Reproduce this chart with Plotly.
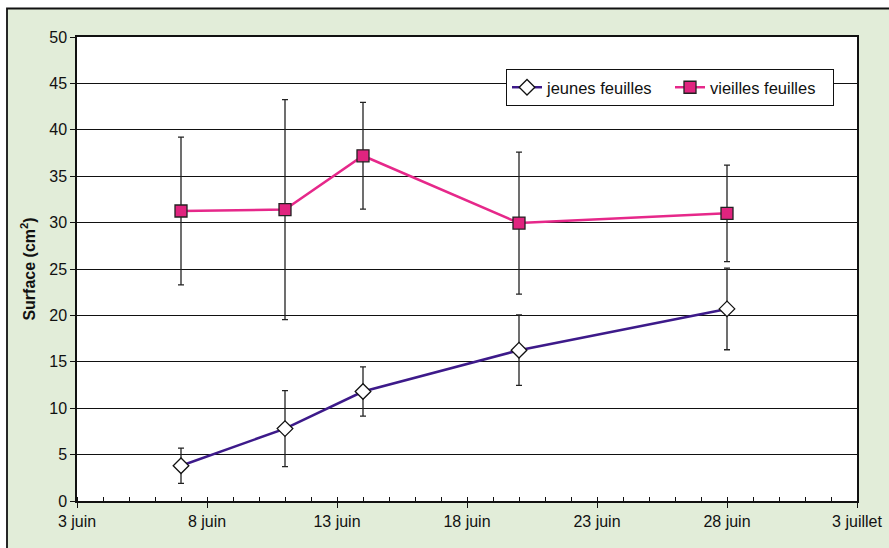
import plotly.graph_objects as go

dates = ["2005-06-07", "2005-06-11", "2005-06-14", "2005-06-20", "2005-06-28"]
jeunes = [3.8, 7.8, 11.8, 16.25, 20.7]
jeunes_err = [1.9, 4.1, 2.65, 3.8, 4.4]
vieilles = [31.25, 31.4, 37.2, 29.95, 31.0]
vieilles_err = [7.95, 11.85, 5.75, 7.65, 5.2]
tick_vals = ["2005-06-03", "2005-06-08", "2005-06-13", "2005-06-18", "2005-06-23", "2005-06-28", "2005-07-03"]
tick_text = ["3 juin", "8 juin", "13 juin", "18 juin", "23 juin", "28 juin", "3 juillet"]

fig = go.Figure()
fig.add_trace(go.Scatter(
    x=dates, y=jeunes, name="jeunes feuilles", mode="lines+markers",
    line=dict(color="#3D1A8A", width=2.5),
    marker=dict(symbol="diamond", size=12, color="white", line=dict(color="#111111", width=1.3)),
    error_y=dict(type="data", array=jeunes_err, visible=True, color="#222222", thickness=1.3, width=3),
))
fig.add_trace(go.Scatter(
    x=dates, y=vieilles, name="vieilles feuilles", mode="lines+markers",
    line=dict(color="#E6288A", width=2.5),
    marker=dict(symbol="square", size=12, color="#E0247F", line=dict(color="#222222", width=1.3)),
    error_y=dict(type="data", array=vieilles_err, visible=True, color="#222222", thickness=1.3, width=3),
))

L, R, T, B = 77, 32, 37, 47
W, H = 889, 548
pw, ph = W - L - R, H - T - B

def px_x(p):
    return (p - L) / pw

def px_y(p):
    return (H - B - p) / ph

fig.add_shape(type="rect", xref="paper", yref="paper",
              x0=px_x(7), x1=px_x(900), y0=px_y(560), y1=px_y(8.5),
              line=dict(color="#111111", width=1.8), fillcolor="#E2EDD9", layer="below")
fig.add_shape(type="rect", xref="paper", yref="paper",
              x0=0, x1=1, y0=0, y1=1,
              line=dict(width=0), fillcolor="white", layer="below")

fig.update_layout(
    width=W, height=H,
    margin=dict(l=L, r=R, t=T, b=B, autoexpand=False),
    paper_bgcolor="white", plot_bgcolor="white",
    font=dict(family="Liberation Sans, Arial, sans-serif", size=16, color="#111111"),
    showlegend=True,
    legend=dict(orientation="h", x=px_x(506), y=px_y(69), xanchor="left", yanchor="top",
                bgcolor="white", bordercolor="#111111", borderwidth=1,
                font=dict(size=16.5), tracegroupgap=0, entrywidth=118, entrywidthmode="pixels"),
)
fig.update_xaxes(
    type="date", range=["2005-06-03", "2005-07-03"],
    tickvals=tick_vals, ticktext=tick_text,
    tickfont=dict(family="Liberation Sans Narrow, Arial Narrow, sans-serif", size=16),
    showgrid=False, showline=True, linecolor="#111111", linewidth=1.5, mirror=True,
    ticks="outside", ticklen=5, tickcolor="#111111",
    minor=dict(ticks="inside", ticklen=4, tickcolor="#111111", dtick=86400000, showgrid=False),
    zeroline=False,
)
fig.update_yaxes(
    range=[0, 50], dtick=5, showgrid=True, gridcolor="#111111", gridwidth=1,
    showline=True, linecolor="#111111", linewidth=1.5, mirror=True,
    ticks="outside", ticklen=5, tickcolor="#111111",
    zeroline=False,
    title=dict(text="<b>Surface (cm<sup>2</sup>)</b>", font=dict(size=16), standoff=10),
)

fig.write_html("out.html", config={"displayModeBar": False},
               post_script="document.body.style.margin='0';")
